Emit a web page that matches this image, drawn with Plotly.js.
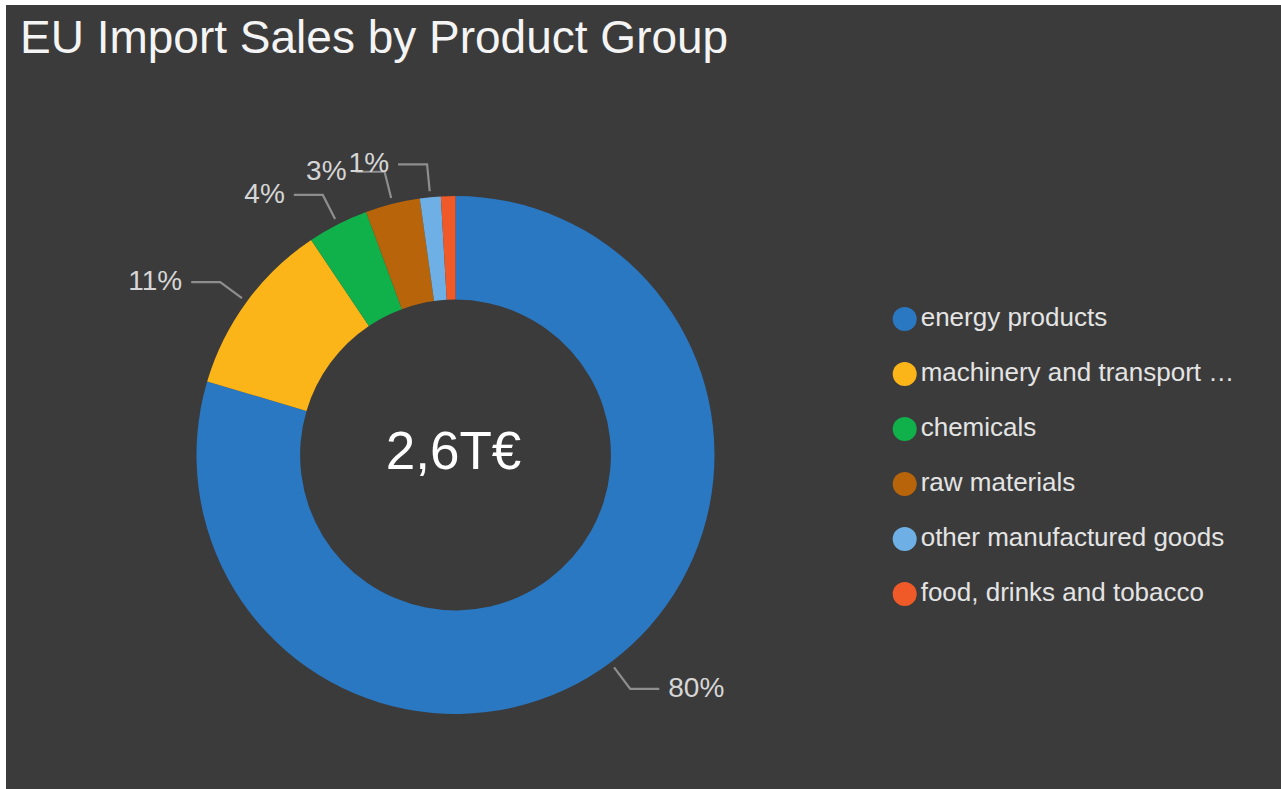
<!DOCTYPE html>
<html>
<head>
<meta charset="utf-8">
<script src="https://cdn.plot.ly/plotly-3.0.1.min.js"></script>
<style>
  html, body { margin: 0; padding: 0; background: #ffffff; width: 1281px; height: 789px; overflow: hidden; }
  #chart { position: absolute; left: 6px; top: 5px; width: 1275px; height: 784px; }
</style>
</head>
<body>
<div id="chart"></div>
<script>
// ---- data ----
const categories = ['energy products', 'machinery and transport equipment', 'chemicals', 'raw materials', 'other manufactured goods', 'food, drinks and tobacco'];
const legendLabels = ['energy products', 'machinery and transport …', 'chemicals', 'raw materials', 'other manufactured goods', 'food, drinks and tobacco'];
const shares = [79.5, 11.0, 3.8, 3.4, 1.3, 0.9];
const colors = ['#2a78c2', '#fcb518', '#10b04a', '#b8640b', '#6eb0e6', '#f05a28'];
const titleText = 'EU Import Sales by Product Group';
const centerLabel = '2,6T€';

// ---- layout constants (page pixels) ----
const OX = 6, OY = 5, W = 1275, H = 784;
const CX = 455.5, CY = 455, R = 259;
const FONT = 'Liberation Sans, Arial, sans-serif';

const total = shares.reduce((a, b) => a + b, 0);

// pie domain
const dom = {
  x: [(CX - R - OX) / W, (CX + R - OX) / W],
  y: [(OY + H - CY - R) / H, (OY + H - CY + R) / H]
};

const pie = {
  type: 'pie',
  labels: categories,
  values: shares,
  sort: false,
  direction: 'clockwise',
  rotation: 0,
  hole: 0.6,
  marker: { colors: colors, line: { width: 0 } },
  textinfo: 'none',
  showlegend: false,
  domain: dom,
  hoverinfo: 'label+percent'
};

// leader lines + percent labels computed from the values
const lx = [], ly = [], tX = [], tY = [], tT = [], tPos = [];
let cum = 0;
shares.forEach((v, i) => {
  const frac = v / total;
  const mid = (cum + frac / 2) * 2 * Math.PI;
  cum += frac;
  if (frac < 0.01) return;
  const s = Math.sin(mid), c = Math.cos(mid);
  const x0 = CX + (R + 6) * s, y0 = CY - (R + 6) * c;
  const x1 = CX + (R + 33) * s, y1 = CY - (R + 33) * c;
  const dir = s >= 0 ? 1 : -1;
  const x2 = x1 + dir * 29;
  lx.push(x0, x1, x2, null);
  ly.push(y0, y1, y1, null);
  tX.push(x2 + dir * 9);
  tY.push(y1 + 1);
  tT.push(Math.round(frac * 100) + '%');
  tPos.push(dir > 0 ? 'middle right' : 'middle left');
});

const leaders = {
  type: 'scatter', mode: 'lines', x: lx, y: ly,
  line: { color: '#8e8e8e', width: 2.2 },
  hoverinfo: 'skip', showlegend: false, xaxis: 'x', yaxis: 'y'
};
const pctLabels = {
  type: 'scatter', mode: 'text', x: tX, y: tY, text: tT,
  textposition: tPos,
  textfont: { family: FONT, size: 28, color: '#d6d6d6' },
  hoverinfo: 'skip', showlegend: false
};
const center = {
  type: 'scatter', mode: 'text', x: [CX - 2], y: [CY + 1], text: [centerLabel],
  textposition: 'middle center',
  textfont: { family: FONT, size: 53, color: '#ffffff' },
  hoverinfo: 'skip', showlegend: false
};

// legend drawn as markers + text
const legX = 904.7, legY0 = 319, legStep = 55;
const legend = {
  type: 'scatter', mode: 'markers+text',
  x: categories.map(() => legX),
  y: categories.map((_, i) => legY0 + i * legStep),
  text: legendLabels,
  textposition: 'middle right',
  marker: { size: 24, color: colors, line: { width: 0 } },
  textfont: { family: FONT, size: 26, color: '#e4e4e4' },
  hoverinfo: 'skip', showlegend: false, cliponaxis: false
};

const layout = {
  width: W, height: H,
  margin: { l: 0, r: 0, t: 0, b: 0 },
  paper_bgcolor: '#3b3b3b',
  plot_bgcolor: 'rgba(0,0,0,0)',
  showlegend: false,
  title: {
    text: titleText,
    font: { family: FONT, size: 46, color: '#f4f4f4' },
    x: 14 / W, xref: 'paper', xanchor: 'left',
    y: 1 - 32.2 / H, yref: 'container', yanchor: 'middle'
  },
  xaxis: { range: [OX, OX + W], visible: false, fixedrange: true },
  yaxis: { range: [OY + H, OY], visible: false, fixedrange: true }
};

Plotly.newPlot('chart', [leaders, pctLabels, center, legend, pie], layout, { displayModeBar: false, staticPlot: true });
</script>
</body>
</html>
